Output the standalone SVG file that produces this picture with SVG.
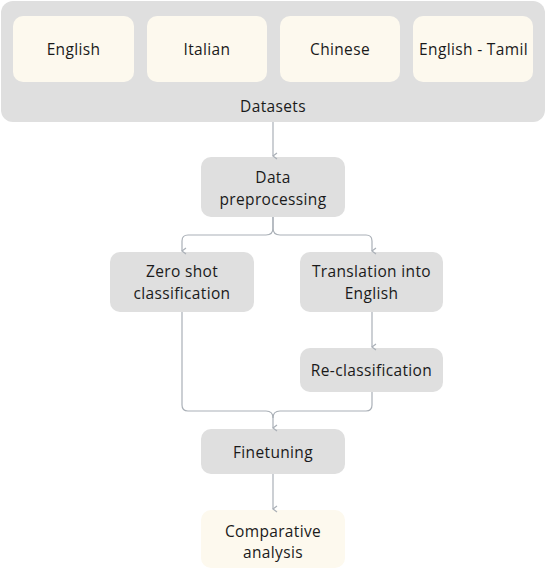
<svg xmlns="http://www.w3.org/2000/svg" width="546" height="570" viewBox="0 0 546 570">
<defs>
<style>
.g{fill:#dfdfdf}
.c{fill:#fdf9ee}
text{font-family:"Open Sans","Liberation Sans",Arial,sans-serif;font-size:15.5px;letter-spacing:0.35px;fill:#1a1a1a;text-anchor:middle}
.ln{fill:none;stroke:#aab0b7;stroke-width:1.2}
</style>
<marker id="ar" markerWidth="8" markerHeight="8" refX="4" refY="6" orient="auto" markerUnits="userSpaceOnUse" viewBox="0 0 8 8">
<path d="M1,2 L4,6 L7,2" fill="none" stroke="#aab0b7" stroke-width="1.2"/>
</marker>
</defs>
<rect width="546" height="570" fill="#fff"/>
<g id="datasets">
<rect class="g" x="1" y="1" width="544" height="121" rx="12"/>
<text x="273" y="112">Datasets</text>
</g>
<g id="english"><rect class="c" x="13" y="16" width="121" height="66" rx="10"/><text x="73.5" y="55">English</text></g>
<g id="italian"><rect class="c" x="147" y="16" width="120" height="66" rx="10"/><text x="207" y="55">Italian</text></g>
<g id="chinese"><rect class="c" x="280" y="16" width="120" height="66" rx="10"/><text x="340" y="55">Chinese</text></g>
<g id="english-tamil"><rect class="c" x="413" y="16" width="120" height="66" rx="10"/><text x="473.5" y="55">English - Tamil</text></g>
<g id="preprocessing"><rect class="g" x="201" y="157" width="144" height="60" rx="10"/><text x="273" y="183">Data</text><text x="273" y="205">preprocessing</text></g>
<g id="zeroshot"><rect class="g" x="110" y="252" width="144" height="60" rx="10"/><text x="182" y="277">Zero shot</text><text x="182" y="299">classification</text></g>
<g id="translation"><rect class="g" x="300" y="252" width="143" height="60" rx="10"/><text x="371.5" y="277">Translation into</text><text x="371.5" y="299">English</text></g>
<g id="reclassification"><rect class="g" x="300" y="348" width="143" height="44" rx="10"/><text x="371.5" y="376">Re-classification</text></g>
<g id="finetuning"><rect class="g" x="201" y="429" width="144" height="45" rx="10"/><text x="273" y="458">Finetuning</text></g>
<g id="comparative"><rect class="c" x="201" y="510" width="144" height="58" rx="10"/><text x="273" y="537">Comparative</text><text x="273" y="558">analysis</text></g>
<g id="connectors">
<path class="ln" d="M273,122 V156" marker-end="url(#ar)"/>
<path class="ln" d="M273,217 V228 Q273,235 266,235 H188 Q182,235 182,241 V251" marker-end="url(#ar)"/>
<path class="ln" d="M273,217 V228 Q273,235 280,235 H366 Q372,235 372,241 V251" marker-end="url(#ar)"/>
<path class="ln" d="M372,312 V347" marker-end="url(#ar)"/>
<path class="ln" d="M182,312 V405 Q182,411 188,411 H266 Q273,411 273,418 V428" marker-end="url(#ar)"/>
<path class="ln" d="M372,392 V405 Q372,411 366,411 H280 Q273,411 273,418"/>
<path class="ln" d="M273,474 V509" marker-end="url(#ar)"/>
</g>
</svg>
